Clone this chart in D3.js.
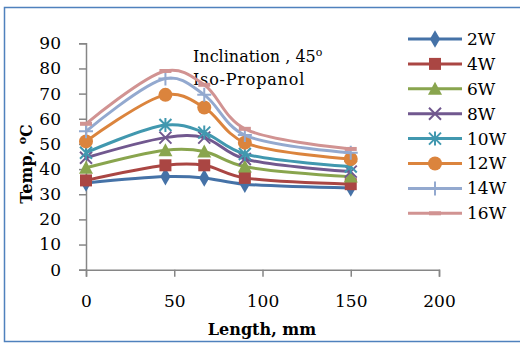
<!DOCTYPE html>
<html>
<head>
<meta charset="utf-8">
<script src="https://cdn.jsdelivr.net/npm/d3@7"></script>
<style>
  body { margin: 0; background: #fff; }
  text { font-family: "DejaVu Serif", "Liberation Serif", serif; }
</style>
</head>
<body>
<div id="chart"></div>
<script>
const lengths = [0, 45, 67, 90, 150];
const seriesNames = ["2W", "4W", "6W", "8W", "10W", "12W", "14W", "16W"];
const temps2W = [34.5, 37, 36.5, 34, 32.5];
const temps4W = [35.5, 41.5, 41.5, 36.5, 34];
const temps6W = [40.5, 47.5, 47, 41, 37];
const temps8W = [44.5, 52.5, 52.5, 44, 39];
const temps10W = [46.5, 57.5, 54.5, 46, 41];
const temps12W = [51, 69.5, 64.5, 50.5, 44];
const temps14W = [55, 76, 69.5, 53.5, 46.5];
const temps16W = [58, 79, 73.5, 56, 48];
const xTicks = [0, 50, 100, 150, 200];
const yTicks = [0, 10, 20, 30, 40, 50, 60, 70, 80, 90];

const allTemps = [temps2W, temps4W, temps6W, temps8W, temps10W, temps12W, temps14W, temps16W];
const colors = ["#4572A7", "#AA4643", "#89A54E", "#71588F", "#4198AF", "#DB843D", "#93A9CF", "#D19392"];
const markers = ["diamond", "square", "triangle", "x", "star", "circle", "plus", "dash"];

const W = 520, H = 344;
const svg = d3.select("#chart").append("svg")
  .attr("width", W).attr("height", H);

// outer frame
svg.append("rect")
  .attr("x", 4.5).attr("y", 7.5)
  .attr("width", 520).attr("height", 334)
  .attr("fill", "none").attr("stroke", "#4F81BD").attr("stroke-width", 1.5);

const x = d3.scaleLinear().domain([0, 200]).range([86, 439]);
const y = d3.scaleLinear().domain([0, 90]).range([269.7, 43.3]);

const axisColor = "#868686";

// y axis
const yAxis = svg.append("g")
  .attr("transform", `translate(${x(0)},0)`)
  .call(d3.axisLeft(y).tickValues(yTicks).tickSize(7).tickPadding(18).tickFormat(d3.format("d")));
yAxis.select(".domain").attr("stroke", axisColor).attr("stroke-width", 1.5);
yAxis.selectAll(".tick line").attr("stroke", axisColor).attr("stroke-width", 1.5);
yAxis.selectAll(".tick text")
  .attr("fill", "#000").style("font-size", "17px")
  .style("font-family", "DejaVu Serif, serif");

// x axis
const xAxis = svg.append("g")
  .attr("transform", `translate(0,${y(0)})`)
  .call(d3.axisBottom(x).tickValues(xTicks).tickSize(7).tickPadding(18).tickFormat(d3.format("d")));
xAxis.select(".domain").attr("stroke", axisColor).attr("stroke-width", 1.5);
xAxis.selectAll(".tick line").attr("stroke", axisColor).attr("stroke-width", 1.5);
xAxis.selectAll(".tick text")
  .attr("fill", "#000").style("font-size", "17px")
  .style("font-family", "DejaVu Serif, serif");

// axis titles
svg.append("text")
  .attr("x", 262).attr("y", 335)
  .attr("text-anchor", "middle")
  .style("font-size", "16px").style("font-weight", "bold")
  .text("Length, mm");

const yt = svg.append("text")
  .attr("transform", "translate(32,164) rotate(-90)")
  .attr("text-anchor", "middle")
  .style("font-size", "16px").style("font-weight", "bold");
yt.append("tspan").text("Temp, ");
yt.append("tspan").attr("dy", -6).style("font-size", "11px").text("o");
yt.append("tspan").attr("dy", 6).text("C");

// annotation
const a1 = svg.append("text")
  .attr("x", 193).attr("y", 62)
  .style("font-size", "16px");
a1.append("tspan").text("Inclination , 45");
a1.append("tspan").attr("dy", -6).style("font-size", "11px").text("o");
svg.append("text")
  .attr("x", 193).attr("y", 85)
  .style("font-size", "16px")
  .style("letter-spacing", "0.8px")
  .text("Iso-Propanol");

function drawMarker(g, type, color) {
  if (type === "diamond") {
    g.append("path").attr("d", d3.symbol(d3.symbolDiamond, 90)()).attr("fill", color);
  } else if (type === "square") {
    g.append("rect").attr("x", -6).attr("y", -6).attr("width", 12).attr("height", 12).attr("fill", color);
  } else if (type === "triangle") {
    g.append("path").attr("d", "M0,-7L7,6L-7,6Z").attr("fill", color);
  } else if (type === "x") {
    g.append("path").attr("d", "M-6,-6L6,6M-6,6L6,-6").attr("stroke", color).attr("stroke-width", 2);
  } else if (type === "star") {
    g.append("path").attr("d", "M-6,-6L6,6M-6,6L6,-6M0,-7L0,7").attr("stroke", color).attr("stroke-width", 2);
  } else if (type === "circle") {
    g.append("circle").attr("r", 7).attr("fill", color);
  } else if (type === "plus") {
    g.append("path").attr("d", "M-7,0L7,0M0,-7L0,7").attr("stroke", color).attr("stroke-width", 2);
  } else if (type === "dash") {
    g.append("path").attr("d", "M-6,0L6,0").attr("stroke", color).attr("stroke-width", 4);
  }
}

const line = d3.line()
  .x((d, i) => x(lengths[i]))
  .y(d => y(d))
  .curve(d3.curveCatmullRom.alpha(0.3));

allTemps.forEach((vals, s) => {
  const g = svg.append("g");
  g.append("path")
    .datum(vals)
    .attr("fill", "none")
    .attr("stroke", colors[s])
    .attr("stroke-width", 3)
    .attr("d", line);
  vals.forEach((v, i) => {
    const m = g.append("g").attr("transform", `translate(${x(lengths[i])},${y(v)})`);
    drawMarker(m, markers[s], colors[s]);
  });
});

// legend
const legend = svg.append("g");
seriesNames.forEach((name, s) => {
  const ly = 39 + s * 24.9;
  const row = legend.append("g").attr("transform", `translate(0,${ly})`);
  row.append("line")
    .attr("x1", 408).attr("x2", 462)
    .attr("stroke", colors[s]).attr("stroke-width", 3);
  const m = row.append("g").attr("transform", "translate(435,0)");
  drawMarker(m, markers[s], colors[s]);
  row.append("text")
    .attr("x", 467).attr("y", 0).attr("dy", "0.35em")
    .style("font-size", "17px")
    .text(name);
});
</script>
</body>
</html>
